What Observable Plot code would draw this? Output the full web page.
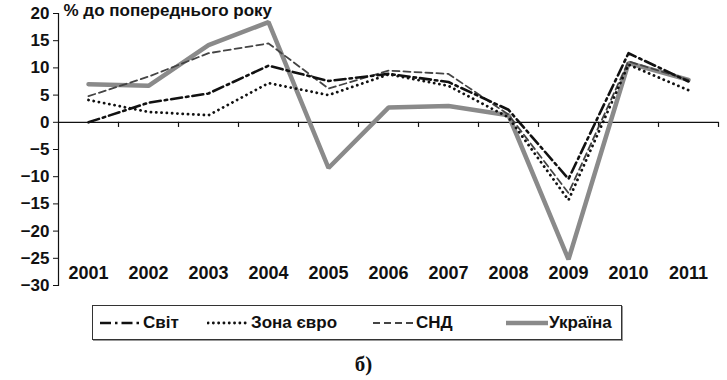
<!DOCTYPE html>
<html>
<head>
<meta charset="utf-8">
<script src="https://cdn.jsdelivr.net/npm/d3@7"></script>
<script src="https://cdn.jsdelivr.net/npm/@observablehq/plot@0.6"></script>
<style>
  html, body { margin: 0; padding: 0; background: #fff; }
  #wrap { position: relative; width: 727px; height: 380px; }
  #chart { position: absolute; left: 0; top: 0; }
  #legend { position: absolute; left: 92px; top: 305px; width: 528px; height: 33px; border: 1px solid #333; box-shadow: 1px 1px 0 #999; background: #fff;
    font-family: "Liberation Sans", Arial, sans-serif; font-weight: bold; font-size: 17px; color: #111; }
  .item { position: absolute; top: 0; height: 33px; display: flex; align-items: center; }
  .item svg { display: block; }
  #sub { position: absolute; left: 0; width: 727px; top: 352px; text-align: center; font-family: "Liberation Serif", "DejaVu Serif", serif; font-size: 21px; font-weight: bold; color: #111; }
</style>
</head>
<body>
<div id="wrap">
  <div id="chart"></div>
  <div id="legend"></div>
  <div id="sub">б)</div>
</div>
<script>
const years = [2001, 2002, 2003, 2004, 2005, 2006, 2007, 2008, 2009, 2010, 2011];
const world   = [0.0, 3.6, 5.3, 10.4, 7.6, 8.9, 7.4, 2.3, -10.4, 12.7, 7.5];
const euro    = [4.1, 1.9, 1.3, 7.2, 5.0, 8.8, 6.7, 0.9, -14.3, 10.6, 5.9];
const cis     = [4.8, 8.4, 12.7, 14.5, 6.2, 9.5, 8.9, 1.4, -13.0, 11.2, 7.8];
const ukraine = [7.0, 6.7, 14.2, 18.4, -8.4, 2.7, 3.0, 1.3, -25.2, 10.9, 7.8];
const yTicks = [-30, -25, -20, -15, -10, -5, 0, 5, 10, 15, 20];
const unitLabel = "% до попереднього року";
const seriesNames = ["Світ", "Зона євро", "СНД", "Україна"];

const rows = (vals) => years.map((y, i) => ({year: y, value: vals[i]}));
const bounds = years.map(y => y + 0.5);

const styles = {
  "Світ":      {stroke: "#111", strokeWidth: 2.6, strokeDasharray: "11,4,2.5,4"},
  "Зона євро": {stroke: "#111", strokeWidth: 2.8, strokeDasharray: "0.1,5.2", strokeLinecap: "round"},
  "СНД":       {stroke: "#444", strokeWidth: 1.8, strokeDasharray: "7,4"},
  "Україна":   {stroke: "#8a8a8a", strokeWidth: 4.5}
};

const chart = Plot.plot({
  width: 727,
  height: 302,
  marginLeft: 58,
  marginRight: 9,
  marginTop: 13,
  marginBottom: 17,
  style: {fontFamily: "'Liberation Sans', Arial, sans-serif", fontWeight: "bold", color: "#111", background: "transparent", overflow: "visible"},
  x: {type: "linear", domain: [2000.5, 2011.5]},
  y: {domain: [-30, 20]},
  marks: [
    Plot.frame({anchor: "left", stroke: "#111", strokeWidth: 1.2}),
    Plot.axisY(yTicks, {tickSize: 5, tickPadding: 4, fontSize: 17, fill: "#111", label: null}),
    Plot.axisX(years, {anchor: "bottom", tickSize: 0, tickPadding: 0, dy: -19, fontSize: 18, fill: "#111", tickFormat: d => String(d), label: null}),
    Plot.ruleY([0], {stroke: "#111", strokeWidth: 1.2}),
    Plot.ruleX(bounds, {x: d => d, y1: 0, y2: -0.95, stroke: "#111", strokeWidth: 1.2}),
    Plot.line(rows(ukraine), {x: "year", y: "value", ...styles["Україна"], strokeLinejoin: "miter"}),
    Plot.line(rows(cis), {x: "year", y: "value", ...styles["СНД"]}),
    Plot.line(rows(euro), {x: "year", y: "value", ...styles["Зона євро"]}),
    Plot.line(rows(world), {x: "year", y: "value", ...styles["Світ"]}),
    Plot.text([unitLabel], {frameAnchor: "top-left", text: d => d, dx: 5, dy: -10, lineAnchor: "top", textAnchor: "start", fontSize: 17, fill: "#111"})
  ]
});
document.getElementById("chart").appendChild(chart);

// legend
const legend = document.getElementById("legend");
const offsets = [6, 114, 279, 412];
seriesNames.forEach((name, i) => {
  const st = styles[name];
  const item = document.createElement("div");
  item.className = "item";
  item.style.left = offsets[i] + "px";
  const svg = d3.create("svg").attr("width", 44).attr("height", 12);
  svg.append("line").attr("x1", 1).attr("x2", 43).attr("y1", 6).attr("y2", 6)
    .attr("stroke", st.stroke).attr("stroke-width", st.strokeWidth)
    .attr("stroke-dasharray", st.strokeDasharray || null)
    .attr("stroke-linecap", st.strokeLinecap || "butt");
  item.appendChild(svg.node());
  const span = document.createElement("span");
  span.textContent = name;
  item.appendChild(span);
  legend.appendChild(item);
});
</script>
</body>
</html>
